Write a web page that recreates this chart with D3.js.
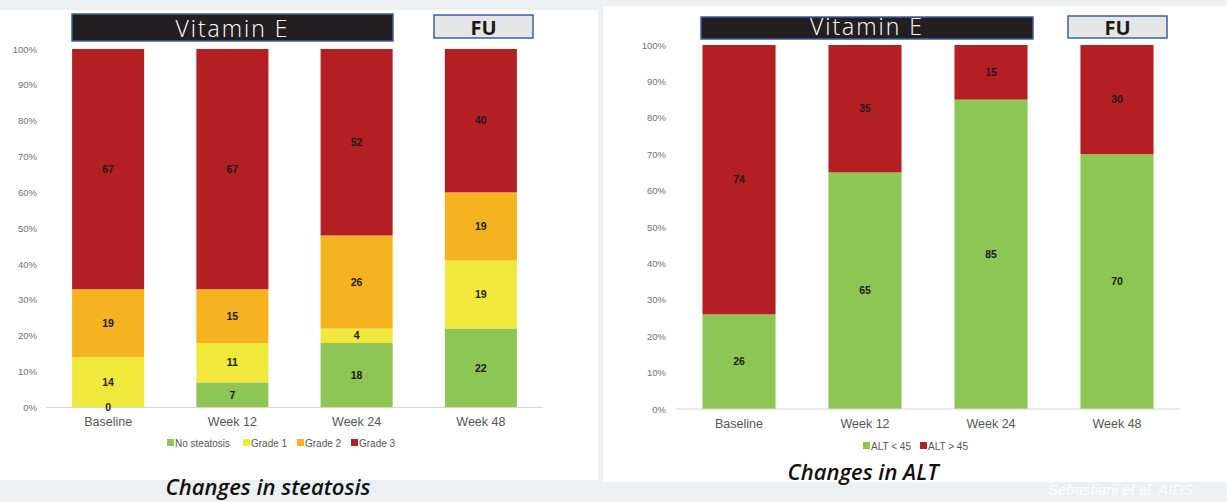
<!DOCTYPE html>
<html>
<head>
<meta charset="utf-8">
<script src="https://cdn.jsdelivr.net/npm/d3@7"></script>
<style>
  html, body { margin: 0; padding: 0; background: #edf0f3; }
  svg { display: block; }
</style>
</head>
<body>
<svg id="chart" width="1227" height="502"></svg>
<script>
// ---- data ----
const timepoints = ["Baseline", "Week 12", "Week 24", "Week 48"];

const steatosisSeries = ["No steatosis", "Grade 1", "Grade 2", "Grade 3"];
const noSteatosis = [0, 7, 18, 22];
const grade1 = [14, 11, 4, 19];
const grade2 = [19, 15, 26, 19];
const grade3 = [67, 67, 52, 40];

const altSeries = ["ALT < 45", "ALT > 45"];
const altBelow45 = [26, 65, 85, 70];
const altAbove45 = [74, 35, 15, 30];

const yTicks = [0, 10, 20, 30, 40, 50, 60, 70, 80, 90, 100];

const colors = {
  green: "#8dc654",
  yellow: "#f0e83b",
  orange: "#f5b41f",
  red: "#b41f24"
};

const svg = d3.select("#chart");

// slide panels
svg.append("rect").attr("x", 0).attr("y", 10).attr("width", 598).attr("height", 470).attr("fill", "#ffffff");
svg.append("rect").attr("x", 603).attr("y", 6).attr("width", 624).attr("height", 476).attr("fill", "#ffffff");

function drawChart(opts) {
  const g = svg.append("g");
  const x = d3.scaleBand().domain(timepoints).range(opts.xRange).paddingInner(0.42).paddingOuter(0.21);
  const y = d3.scaleLinear().domain([0, 100]).range(opts.yRange);

  // stack the series
  const rows = timepoints.map((t, i) => {
    const r = { t };
    opts.series.forEach((s, k) => { r[s] = opts.values[k][i]; });
    return r;
  });
  const stacked = d3.stack().keys(opts.series)(rows);

  // y axis labels
  const yAxis = d3.axisLeft(y).tickValues(yTicks).tickFormat(d => d + "%").tickSize(0).tickPadding(0);
  const ya = g.append("g").attr("transform", `translate(${opts.yLabelX},0)`).call(yAxis);
  ya.select(".domain").remove();
  ya.selectAll("text").attr("font-family", "Liberation Sans, Arial, sans-serif")
    .attr("font-size", 9.5).attr("fill", "#707070");

  // bars
  stacked.forEach((layer, k) => {
    g.append("g").selectAll("rect").data(layer).join("rect")
      .attr("x", d => x(d.data.t))
      .attr("width", x.bandwidth())
      .attr("y", d => y(d[1]))
      .attr("height", d => y(d[0]) - y(d[1]))
      .attr("fill", opts.colors[k]);
  });

  // baseline
  g.append("line").attr("x1", opts.xRange[0]).attr("x2", opts.xRange[1])
    .attr("y1", y(0)).attr("y2", y(0)).attr("stroke", "#d6d6d6").attr("stroke-width", 1);

  // value labels
  stacked.forEach((layer) => {
    g.append("g").selectAll("text").data(layer).join("text")
      .attr("x", d => x(d.data.t) + x.bandwidth() / 2)
      .attr("y", d => (y(d[0]) + y(d[1])) / 2)
      .attr("dy", "0.35em")
      .attr("text-anchor", "middle")
      .attr("font-family", "Liberation Sans, Arial, sans-serif")
      .attr("font-weight", "bold")
      .attr("font-size", opts.valueFont)
      .attr("fill", "#1a1a1a")
      .text(d => d[1] - d[0]);
  });

  // x axis labels
  const xAxis = d3.axisBottom(x).tickSize(0).tickPadding(0);
  const xa = g.append("g").attr("transform", `translate(0,${y(0) + opts.xLabelOffset})`).call(xAxis);
  xa.select(".domain").remove();
  xa.selectAll("text").attr("font-family", "Liberation Sans, Arial, sans-serif")
    .attr("font-size", 12.5).attr("fill", "#555555");

  // legend
  const lg = g.append("g").attr("transform", `translate(0,${opts.legendY})`);
  opts.series.forEach((s, k) => {
    const lx = opts.legendX[k];
    lg.append("rect").attr("x", lx).attr("y", -4).attr("width", 7).attr("height", 7).attr("fill", opts.colors[k]);
    lg.append("text").attr("x", lx + 8).attr("y", 0).attr("dy", "0.35em")
      .attr("font-family", "Liberation Sans, Arial, sans-serif").attr("font-size", 10)
      .attr("fill", "#555555").text(s);
  });

  // phase headers
  const vb = opts.vitBox;
  g.append("rect").attr("x", vb[0]).attr("y", vb[1]).attr("width", vb[2]).attr("height", vb[3])
    .attr("fill", "#231f20").attr("stroke", "#3b5fa3").attr("stroke-width", 1.5);
  g.append("text").attr("x", vb[0] + vb[2] / 2).attr("y", vb[1] + vb[3] - 4)
    .attr("text-anchor", "middle").attr("font-family", "Open Sans, sans-serif").attr("font-weight", 300)
    .attr("font-size", 23).attr("letter-spacing", 2).attr("fill", "#ffffff").text("Vitamin E");

  const fb = opts.fuBox;
  g.append("rect").attr("x", fb[0]).attr("y", fb[1]).attr("width", fb[2]).attr("height", fb[3])
    .attr("fill", "#e6e6e6").attr("stroke", "#3b5fa3").attr("stroke-width", 1.5);
  g.append("text").attr("x", fb[0] + fb[2] / 2).attr("y", fb[1] + fb[3] - 3)
    .attr("text-anchor", "middle").attr("font-family", "Open Sans, sans-serif").attr("font-weight", "bold")
    .attr("font-size", 20).attr("fill", "#1a1a1a").text("FU");

  // title
  g.append("text").attr("x", opts.title[1]).attr("y", opts.title[2])
    .attr("text-anchor", "middle").attr("font-family", "Open Sans, sans-serif")
    .attr("font-weight", 600).attr("font-style", "italic").attr("font-size", 22)
    .attr("fill", "#111111").text(opts.title[0]);
}

drawChart({
  series: steatosisSeries,
  values: [noSteatosis, grade1, grade2, grade3],
  colors: [colors.green, colors.yellow, colors.orange, colors.red],
  xRange: [46, 543],
  yRange: [407.5, 49],
  yLabelX: 37,
  valueFont: 10.5,
  xLabelOffset: 10,
  legendY: 443,
  legendX: [167, 243, 297, 351],
  vitBox: [72, 14, 321, 27],
  fuBox: [434, 15, 99, 23],
  title: ["Changes in steatosis", 268, 495]
});

drawChart({
  series: altSeries,
  values: [altBelow45, altAbove45],
  colors: [colors.green, colors.red],
  xRange: [676, 1180],
  yRange: [409, 45],
  yLabelX: 666,
  valueFont: 10.5,
  xLabelOffset: 10,
  legendY: 446,
  legendX: [863, 920],
  vitBox: [701, 17, 332, 22],
  fuBox: [1068, 16, 99, 22],
  title: ["Changes in ALT", 863, 480]
});

// source note
svg.append("text").attr("x", 1048).attr("y", 495)
  .attr("font-family", "Liberation Sans, Arial, sans-serif").attr("font-style", "italic")
  .attr("font-size", 15).attr("fill", "#ffffff").attr("opacity", 0.9).text("Sebastiani et al. AIDS");
</script>
</body>
</html>
